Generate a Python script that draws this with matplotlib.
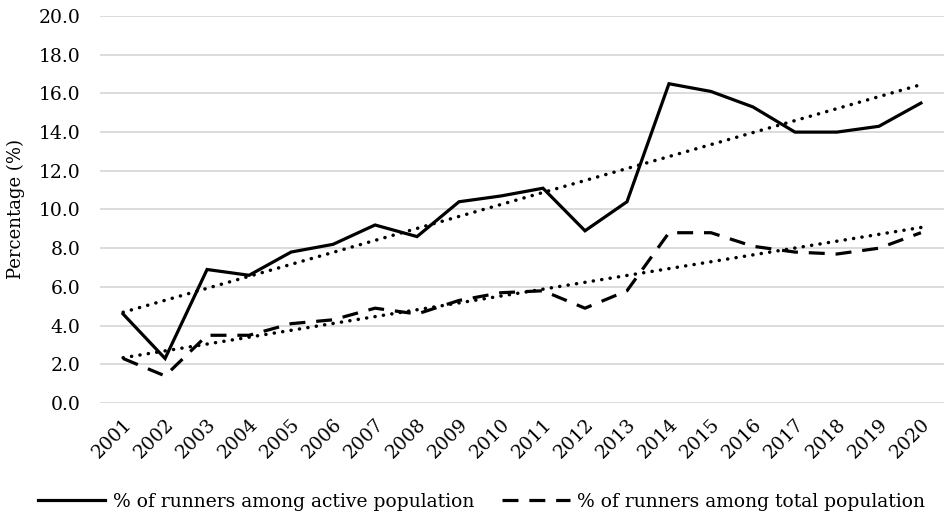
import numpy as np
import matplotlib
matplotlib.use("Agg")
import matplotlib.pyplot as plt

# values
years = list(range(2001, 2021))
active_pct = [4.6, 2.3, 6.9, 6.6, 7.8, 8.2, 9.2, 8.6, 10.4, 10.7,
              11.1, 8.9, 10.4, 16.5, 16.1, 15.3, 14.0, 14.0, 14.3, 15.5]
total_pct = [2.3, 1.4, 3.5, 3.5, 4.1, 4.3, 4.9, 4.6, 5.3, 5.7,
             5.8, 4.9, 5.8, 8.8, 8.8, 8.1, 7.8, 7.7, 8.0, 8.8]
series_labels = ["% of runners among active population",
                 "% of runners among total population"]
yticks = np.arange(0, 20.1, 2.0)

plt.rcParams["font.family"] = ["DejaVu Serif"]

fig = plt.figure(figsize=(9.44, 5.17), dpi=100)
ax = fig.add_axes([100 / 944, 1 - 403 / 517, 844 / 944, 387 / 517])

x = np.arange(len(years))

ax.plot(x, active_pct, color="black", lw=2.3, solid_joinstyle="miter",
        label=series_labels[0], zorder=3)
ax.plot(x, total_pct, color="black", lw=2.3, dashes=(5.0, 3.4),
        label=series_labels[1], zorder=3)

# linear trendlines (dotted)
for vals in (active_pct, total_pct):
    k, b = np.polyfit(x, vals, 1)
    ax.plot(x, k * x + b, color="black", lw=2.5, dashes=(0.05, 2.4),
            dash_capstyle="round", zorder=2)

ax.set_xlim(-0.55, len(years) - 0.45)
ax.set_ylim(0, 20)
ax.set_yticks(yticks)
ax.set_yticklabels([f"{v:.1f}" for v in yticks], fontsize=13.5)
ax.set_xticks(x)
ax.set_xticklabels([str(y) for y in years], rotation=45, ha="right",
                   rotation_mode="anchor", fontsize=13.5)
ax.tick_params(axis="y", length=0, pad=14)
ax.tick_params(axis="x", length=0, pad=9)
ax.grid(axis="y", color="#d9d9d9", lw=1.3)
ax.set_axisbelow(True)
for s in ax.spines.values():
    s.set_visible(False)

ax.set_ylabel("Percentage (%)", fontsize=13, labelpad=10)

fig.legend(loc="center", bbox_to_anchor=(0.51, 1 - 502 / 517), ncol=2,
           frameon=False, fontsize=13.5, handlelength=3.6, handletextpad=0.4,
           columnspacing=1.5)

fig.savefig("out.png", dpi=100)
